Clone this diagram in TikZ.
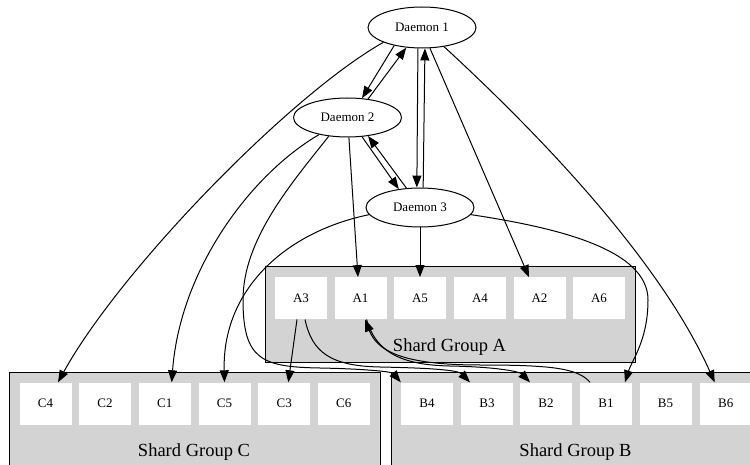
\documentclass[tikz,border=0pt]{standalone}
\usepackage{fontspec}
\setmainfont{Liberation Serif}
\usetikzlibrary{shapes.geometric,arrows.meta,calc}
\definecolor{groupgray}{HTML}{D3D3D3}
\begin{document}
\begin{tikzpicture}[x=1pt,y=-1pt,
  daemon/.style={ellipse,draw,line width=1pt,fill=white,minimum width=108pt,minimum height=40pt,inner sep=0pt,font=\fontsize{13}{15}\selectfont},
  shard/.style={rectangle,fill=white,minimum width=52pt,minimum height=42pt,inner sep=0pt,font=\fontsize{13}{15}\selectfont},
  cluster/.style={rectangle,draw,fill=groupgray,line width=1pt,inner sep=0pt,minimum width=#1,minimum height=95pt},
  grouplabel/.style={anchor=base,inner sep=0pt,font=\fontsize{18.5}{20}\selectfont},
  conn/.style={line width=1pt,-{Triangle[length=12pt,width=9pt]}},
]
\useasboundingbox (0,0) rectangle (750,465);
\clip (0,0) rectangle (750,465);

% clusters
\node[cluster=370pt] (GA) at (450,314.5) {};
\node[cluster=371pt] (GC) at (194.5,419.5) {};
\node[cluster=371pt] (GB) at (576.5,419.5) {};
\node[grouplabel] (LA) at (449.5,351) {Shard Group A};
\node[grouplabel] (LC) at (194,456) {Shard Group C};
\node[grouplabel] (LB) at (575.5,456) {Shard Group B};

% shards A
\node[shard] (A3) at (301,298.3) {A3};
\node[shard] (A1) at (360.5,298.3) {A1};
\node[shard] (A5) at (420,298.3) {A5};
\node[shard] (A4) at (480,298.3) {A4};
\node[shard] (A2) at (539.5,298.3) {A2};
\node[shard] (A6) at (599,298.3) {A6};
% shards C
\node[shard] (C4) at (45.5,403.5) {C4};
\node[shard] (C2) at (105,403.5) {C2};
\node[shard] (C1) at (164.7,403.5) {C1};
\node[shard] (C5) at (224.5,403.5) {C5};
\node[shard] (C3) at (284.3,403.5) {C3};
\node[shard] (C6) at (343.8,403.5) {C6};
% shards B
\node[shard] (B4) at (427,403.5) {B4};
\node[shard] (B3) at (487,403.5) {B3};
\node[shard] (B2) at (546,403.5) {B2};
\node[shard] (B1) at (606,403.5) {B1};
\node[shard] (B5) at (665.5,403.5) {B5};
\node[shard] (B6) at (725.7,403.5) {B6};

% daemons
\node[daemon,minimum height=41pt] (D1) at (422,27.5) {Daemon 1};
\node[daemon,minimum height=39pt] (D2) at (347.5,117.5) {Daemon 2};
\node[daemon,minimum height=39pt] (D3) at (420,207.5) {Daemon 3};

% daemon to daemon
\draw[conn] (D1.213) -- (D2.53);
\draw[conn] (D2.42) -- (D1.232);
\draw[conn] (D1.259) -- (D3.99);
\draw[conn] (D3.81) -- (D1.278);
\draw[conn] (D2.307) -- (D3.139);
\draw[conn] (D3.125) -- (D2.318);

% Daemon 1
\draw[conn] (D1.201) .. controls (290,95) and (120,270) .. ($(C4.north)+(12.5,0)$);
\draw[conn] (D1.291) -- ($(A2.north)+(-10.5,0)$);
\draw[conn] (D1.319) .. controls (540,135) and (660,260) .. ($(B6.north)+(-11,0)$);

% Daemon 2
\draw[conn] (D2.211) .. controls (250,175) and (180,270) .. ($(C1.north)+(7,0)$);
\draw[conn] (D2.274) -- ($(A1.north)+(-2.5,0)$);
\draw[conn] (D2.225) .. controls (290,185) and (243,240) .. (243,300)
  .. controls (243,360) and (262,367) .. (320,368)
  .. controls (370,369) and (392,372) .. (B4.north west);

% Daemon 3
\draw[conn] (D3.188) .. controls (285,232) and (222,290) .. (C5.north);
\draw[conn] (D3.south) -- (A5.north);
\draw[conn] (D3.352) .. controls (560,228) and (648,250) .. (648,300)
  .. controls (648,340) and (632,360) .. ($(B1.north)+(19,0)$);

% shard to shard
\draw[conn] ($(A3.south)+(-4,0)$) -- ($(C3.north)+(4,0)$);
\draw[conn] ($(A3.south)+(4,0)$) .. controls (312,352) and (330,366) .. (380,367)
  .. controls (430,368) and (458,370) .. ($(B3.north)+(-17,0)$);
\draw[conn] ($(A1.south)+(6,0)$) .. controls (375,348) and (395,365) .. (450,366)
  .. controls (500,367) and (520,372) .. ($(B2.north)+(-16,0)$);
\draw[conn] ($(B1.north)+(-16,0)$) .. controls (578,368) and (550,365) .. (480,365)
  .. controls (400,365) and (377,350) .. ($(A1.south)+(4.5,0)$);
\end{tikzpicture}
\end{document}
